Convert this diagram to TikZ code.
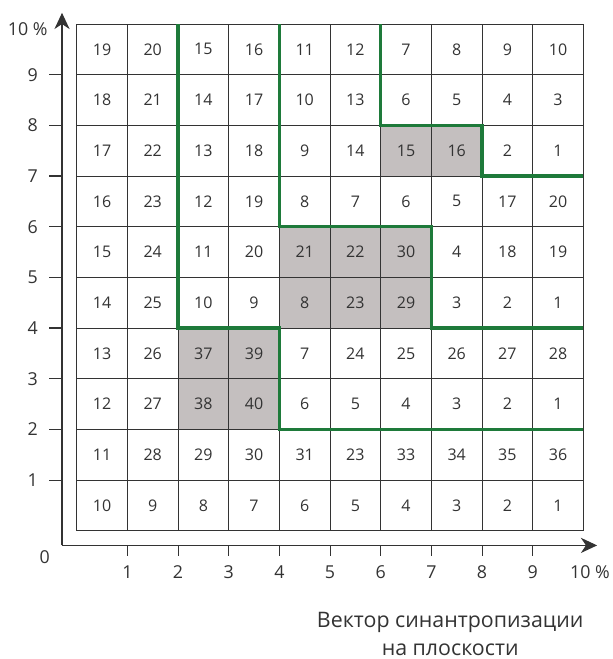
\documentclass[tikz,border=0pt]{standalone}
\usepackage{fontspec}
\setmainfont{Open Sans}
\usetikzlibrary{arrows.meta}
\definecolor{zonegreen}{HTML}{1E7A3A}
\definecolor{cellgray}{HTML}{C4BFBF}
\definecolor{inkgray}{HTML}{333333}

\begin{document}
\begin{tikzpicture}[
  cell/.style={font=\fontsize{9}{11}\selectfont,text=inkgray},
  ticklabel/.style={font=\fontsize{10}{12}\selectfont,text=inkgray,inner sep=0pt},
  caption/.style={font=\fontsize{12}{15.7}\selectfont,text=inkgray,align=center},
  zone/.style={zonegreen,line width=1.8pt},
  axis/.style={-{Stealth[length=3.2mm,width=3mm,inset=1mm]},line width=0.6pt,inkgray}
]
\useasboundingbox (-1.514,-2.532) rectangle (10.565,10.474);
% shaded cells
\foreach \c/\r in {6/7,7/7,4/5,5/5,6/5,4/4,5/4,6/4,2/3,3/3,2/2,3/2}
  \fill[cellgray] (\c,\r) rectangle ++(1,1);
\draw[inkgray,line width=0.5pt] (0,0) grid (10,10);
% cell values, bottom row first
\foreach \row [count=\r] in {
  {10,9,8,7,6,5,4,3,2,1},
  {11,28,29,30,31,23,33,34,35,36},
  {12,27,38,40,6,5,4,3,2,1},
  {13,26,37,39,7,24,25,26,27,28},
  {14,25,10,9,8,23,29,3,2,1},
  {15,24,11,20,21,22,30,4,18,19},
  {16,23,12,19,8,7,6,5,17,20},
  {17,22,13,18,9,14,15,16,2,1},
  {18,21,14,17,10,13,6,5,4,3},
  {19,20,15,16,11,12,7,8,9,10}}
  \foreach \v [count=\c] in \row
    \node[cell] (n-\c-\r) at (\c-0.5,\r-0.5) {\v};
% zone borders
\draw[zone] (2,10) -- (2,4) -- (4,4) -- (4,2) -- (10,2);
\draw[zone] (4,10) -- (4,6) -- (7,6) -- (7,4) -- (10,4);
\draw[zone] (6,10) -- (6,8) -- (8,8) -- (8,7) -- (10,7);
% axes
\coordinate (origin) at (-0.29,-0.29);
\coordinate (xend) at (10.27,-0.29);
\coordinate (yend) at (-0.29,10.22);
\draw[axis] (origin) -- (xend);
\draw[axis] (origin) -- (yend);
\foreach \i in {1,...,9} {
  \draw[inkgray,line width=0.6pt] (\i,-0.29) -- (\i,-0.49);
  \node[ticklabel] (xl\i) at (\i,-0.82) {\i};
  \draw[inkgray,line width=0.6pt] (-0.29,\i) -- (-0.55,\i);
  \node[ticklabel,anchor=east] (yl\i) at (-0.76,\i) {\i};
}
\node[ticklabel] (zero) at (-0.63,-0.52) {0};
\node[ticklabel] (xmax) at (10.13,-0.82) {10~\%};
\node[ticklabel,anchor=east] (ymax) at (-0.57,9.9) {10~\%};
\node[caption] (title) at (7.37,-2.04) {Вектор синантропизации\\на плоскости};
\end{tikzpicture}
\end{document}
